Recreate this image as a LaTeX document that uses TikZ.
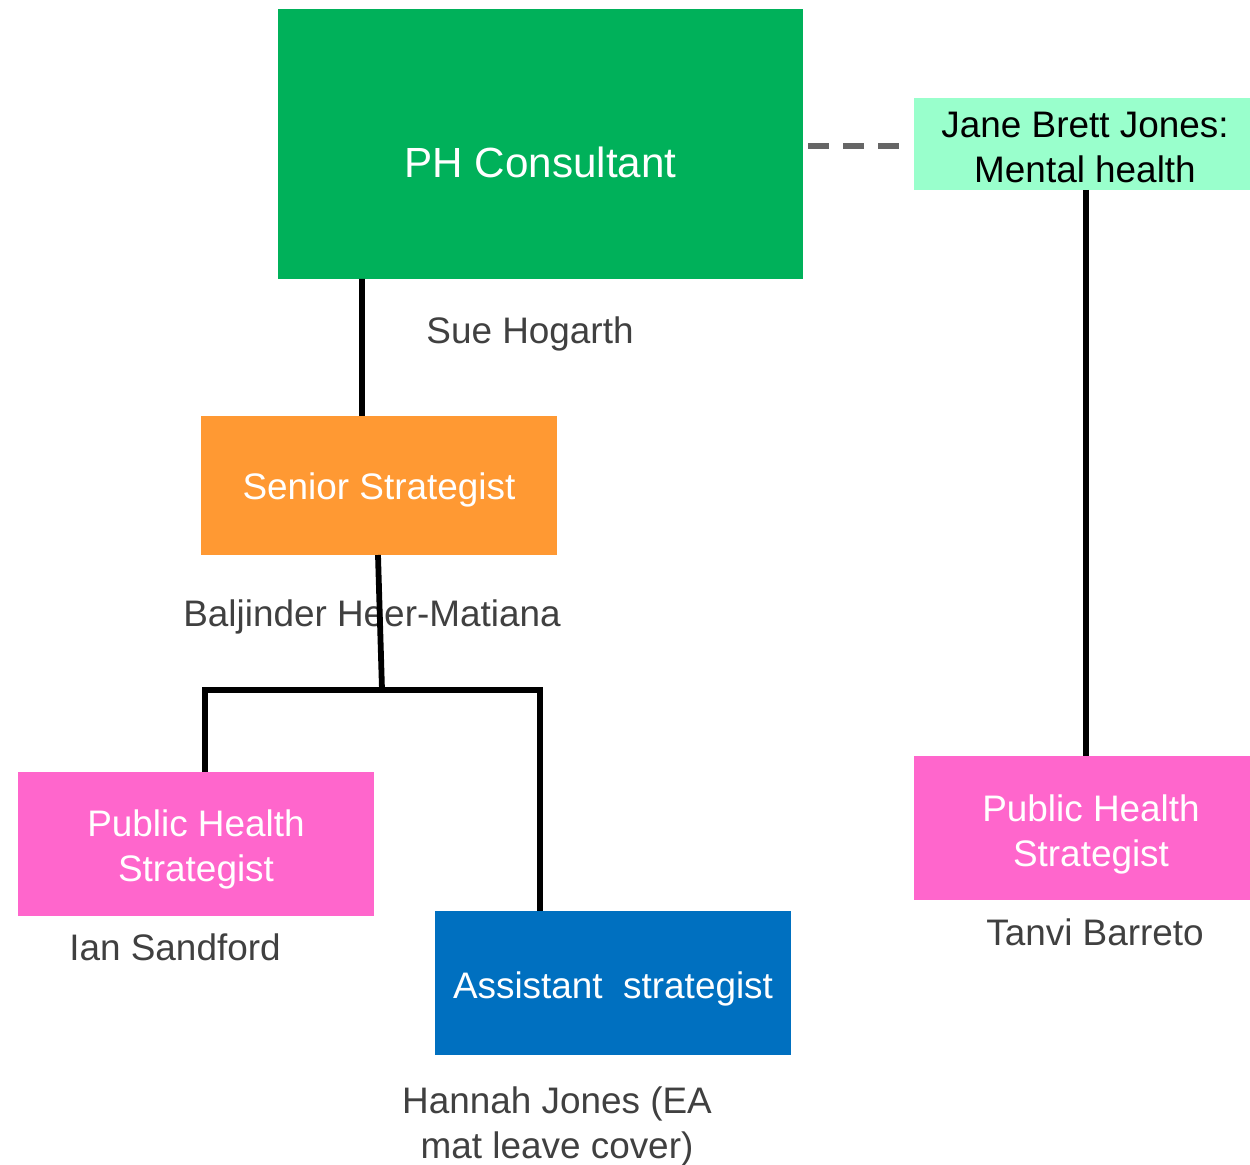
\documentclass[tikz,border=0pt]{standalone}
\usepackage{fontspec}
\setmainfont{Liberation Sans}
\usetikzlibrary{%
  calc,%
  positioning%
}
\definecolor{phgreen}{HTML}{00B15A}
\definecolor{mint}{HTML}{99FFCC}
\definecolor{phpink}{HTML}{FF66CC}
\definecolor{phorange}{HTML}{FF9933}
\definecolor{phblue}{HTML}{0070C0}
\definecolor{namegrey}{HTML}{404040}
\tikzset{
  rolebox/.style={inner sep=0pt,outer sep=0pt,minimum width=7.12cm,minimum height=2.88cm},
  roletext/.style={text=white,font=\fontsize{21}{25.6}\selectfont,align=center},
  person/.style={text=namegrey,font=\fontsize{21}{25.6}\selectfont,align=center},
  conn/.style={line width=3.3pt,black},
  dashline/.style={line width=3pt,draw=black!60,dash pattern=on 12pt off 8pt}
}

\begin{document}
\begin{tikzpicture}
    \useasboundingbox (0,0) rectangle (25,23.28);
    % boxes
    \node[rolebox,fill=phgreen,minimum width=10.5cm,minimum height=5.4cm] (ph) at (10.81,20.4) {};
    \node[roletext,font=\fontsize{24}{28}\selectfont] (phtext) at (10.81,20.04) {PH Consultant};
    \node[rolebox,fill=mint,minimum width=6.72cm,minimum height=1.84cm] (jane) at (21.64,20.4) {};
    \node[roletext,text=black] (janetext) at (21.7,20.34) {Jane Brett Jones:\\Mental health};
    \node[rolebox,fill=phorange,minimum height=2.78cm] (senior) at (7.58,13.57) {};
    \node[roletext] (seniortext) at (7.58,13.49) {Senior Strategist};
    \node[rolebox,fill=phpink] (ips) at (3.92,6.4) {};
    \node[roletext] (ipstext) at (3.92,6.3) {Public Health\\Strategist};
    \node[rolebox,fill=phblue] (assist) at (12.26,3.62) {};
    \node[roletext] (assisttext) at (12.26,3.5) {Assistant~~strategist};
    \node[rolebox,fill=phpink,minimum width=6.72cm] (tps) at (21.64,6.72) {};
    \node[roletext] (tpstext) at (21.82,6.6) {Public Health\\Strategist};
    % names
    \node[person] (sue) at (10.6,16.6) {Sue Hogarth};
    \node[person] (baljinder) at (7.44,10.94) {Baljinder Heer-Matiana};
    \node[person] (ian) at (3.5,4.33) {Ian Sandford};
    \node[person] (hannah) at (11.14,0.75) {Hannah Jones (EA\\mat leave cover)};
    \node[person] (tanvi) at (21.9,4.64) {Tanvi Barreto};
    % lines
    \draw[dashline] ([xshift=0.1cm,yshift=-0.04cm]ph.east) -- ([xshift=-0.08cm,yshift=-0.04cm]jane.west);
    \draw[conn] ([xshift=-3.57cm]ph.south) -- ([xshift=-0.34cm]senior.north);
    \draw[conn] ([xshift=0.08cm]jane.south) -- ([xshift=0.08cm]tps.north);
    \coordinate (split) at (7.64,9.48);
    \draw[conn] ([xshift=-0.02cm]senior.south) -- (split);
    \draw[conn] ([xshift=0.18cm]ips.north) |- (split) -| ([xshift=-1.46cm]assist.north);
  \end{tikzpicture}
\end{document}
